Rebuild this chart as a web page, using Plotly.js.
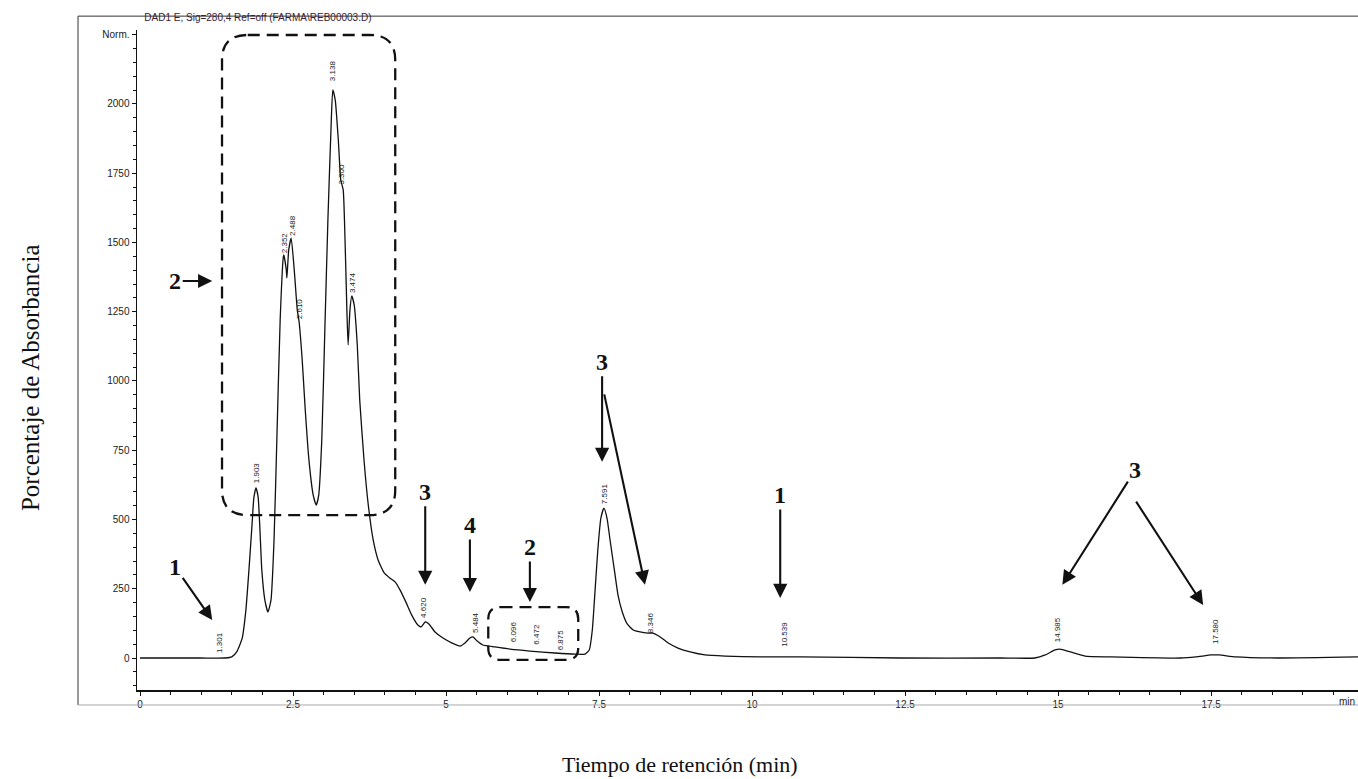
<!DOCTYPE html>
<html>
<head>
<meta charset="utf-8">
<script src="https://cdn.plot.ly/plotly-3.0.1.min.js"></script>
<style>html,body{margin:0;padding:0;background:#fff;}#chart{width:1358px;height:779px;}</style>
</head>
<body>
<div id="chart"></div>
<script>
// Chromatogram trace (retention time in min, absorbance in mAU)
const retentionTime = [0, 0.98, 1.39, 1.50, 1.58, 1.67, 1.73, 1.78, 1.83, 1.86, 1.895, 1.93, 1.96, 1.99, 2.04, 2.09, 2.14, 2.19, 2.24, 2.29, 2.34, 2.35, 2.39, 2.40, 2.43, 2.47, 2.52, 2.57, 2.60, 2.65, 2.70, 2.76, 2.83, 2.88, 2.92, 2.97, 3.02, 3.07, 3.12, 3.15, 3.19, 3.24, 3.28, 3.32, 3.35, 3.38, 3.40, 3.43, 3.46, 3.50, 3.55, 3.59, 3.66, 3.73, 3.81, 3.89, 3.99, 4.08, 4.17, 4.25, 4.35, 4.44, 4.54, 4.59, 4.66, 4.72, 4.82, 4.95, 5.10, 5.23, 5.31, 5.39, 5.44, 5.51, 5.60, 5.80, 6.05, 6.37, 6.78, 7.11, 7.27, 7.34, 7.39, 7.43, 7.48, 7.53, 7.58, 7.63, 7.68, 7.75, 7.81, 7.88, 7.96, 8.06, 8.17, 8.30, 8.38, 8.50, 8.63, 8.79, 8.99, 9.23, 9.56, 10.13, 10.78, 12.42, 14.05, 14.62, 14.79, 14.95, 15.03, 15.20, 15.44, 15.85, 17.00, 17.25, 17.50, 17.63, 17.90, 18.60, 19.90];
const absorbance = [0, 0, 0, 4, 22, 72, 173, 318, 480, 578, 614, 581, 462, 318, 209, 166, 209, 426, 823, 1220, 1444, 1455, 1401, 1372, 1473, 1516, 1401, 1256, 1213, 1076, 895, 715, 588, 552, 588, 787, 1184, 1581, 1906, 2051, 2014, 1870, 1726, 1690, 1509, 1256, 1130, 1256, 1307, 1274, 1130, 931, 715, 552, 426, 354, 307, 289, 274, 245, 199, 155, 119, 112, 130, 123, 94, 72, 54, 43, 54, 72, 76, 61, 47, 40, 32, 25, 18, 14, 14, 29, 101, 227, 390, 505, 541, 505, 426, 318, 227, 166, 123, 101, 94, 90, 90, 76, 54, 36, 22, 11, 7, 4, 4, 0, 0, 0, 11, 29, 32, 22, 7, 4, 0, 4, 11, 11, 4, 0, 4];

// Peak retention-time labels
const peakTimes = [1.301, 1.903, 2.352, 2.488, 2.610, 3.138, 3.300, 3.474, 4.620, 5.484, 6.096, 6.472, 6.875, 7.591, 8.346, 10.539, 14.985, 17.580];
const peakLabels = ["1.301", "1.903", "2.352", "2.488", "2.610", "3.138", "3.300", "3.474", "4.620", "5.484", "6.096", "6.472", "6.875", "7.591", "8.346", "10.539", "14.985", "17.580"];
const peakHeights = [8, 620, 1452, 1512, 1213, 2070, 1700, 1307, 135, 80, 45, 36, 18, 545, 80, 28, 45, 38];

// Axis ticks
const xTickVals = [0, 2.5, 5, 7.5, 10, 12.5, 15, 17.5];
const xTickText = ["0", "2.5", "5", "7.5", "10", "12.5", "15", "17.5"];
const yTickVals = [0, 250, 500, 750, 1000, 1250, 1500, 1750, 2000, 2250];
const yTickText = ["0", "250", "500", "750", "1000", "1250", "1500", "1750", "2000", "Norm."];

// Group markers: [label, head time, head value, text dx px, text dy px]
const groupMarks = [
  ["1", 1.18, 137, -37, -53],
  ["2", 1.18, 1361, -37, 0],
  ["3", 4.66, 264, 0, -93],
  ["4", 5.39, 238, 0, -67],
  ["2", 6.37, 202, 0, -55],
  ["3", 7.55, 708, 0, -100],
  ["", 8.25, 264, -41, -192],
  ["1", 10.46, 217, 0, -103],
  ["3", 15.07, 264, 73, -115],
  ["", 17.37, 191, -68, -105]
];

const serif = "Liberation Serif, Times New Roman, serif";
const sans = "Liberation Sans, Arial, sans-serif";

function roundedBox(x0, x1, y0, y1, rx, ry) {
  return "M " + (x0 + rx) + "," + y1 + " L " + (x1 - rx) + "," + y1 +
    " Q " + x1 + "," + y1 + " " + x1 + "," + (y1 - ry) +
    " L " + x1 + "," + (y0 + ry) +
    " Q " + x1 + "," + y0 + " " + (x1 - rx) + "," + y0 +
    " L " + (x0 + rx) + "," + y0 +
    " Q " + x0 + "," + y0 + " " + x0 + "," + (y0 + ry) +
    " L " + x0 + "," + (y1 - ry) +
    " Q " + x0 + "," + y1 + " " + (x0 + rx) + "," + y1 + " Z";
}

const trace = {
  x: retentionTime,
  y: absorbance,
  type: "scatter",
  mode: "lines",
  line: {color: "#111", width: 1.3, shape: "spline", smoothing: 0.5},
  hoverinfo: "x+y",
  showlegend: false
};

const annotations = [];
peakTimes.forEach(function (t, i) {
  annotations.push({
    x: t, y: peakHeights[i], xref: "x", yref: "y",
    text: peakLabels[i], textangle: -90, showarrow: false,
    xanchor: "center", yanchor: "bottom", yshift: 1,
    font: {family: sans, size: 8, color: "#222"}
  });
});
groupMarks.forEach(function (g) {
  annotations.push({
    x: g[1], y: g[2], xref: "x", yref: "y",
    text: g[0], showarrow: true, ax: g[3], ay: g[4],
    arrowhead: 2, arrowsize: 1.35, arrowwidth: 2.1, arrowcolor: "#111",
    font: {family: serif, size: 24, color: "#111", weight: "bold"}
  });
});
// axis unit at the right end of the x axis
annotations.push({
  xref: "paper", yref: "paper", x: 1, y: 0, xanchor: "right", yanchor: "top",
  xshift: -1, yshift: -4, text: "min", showarrow: false,
  font: {family: sans, size: 10, color: "#222"}
});
// axis titles
annotations.push({
  xref: "paper", yref: "paper", x: 0.4447, y: -0.1136, xanchor: "center", yanchor: "middle",
  text: "Tiempo de retención (min)", showarrow: false,
  font: {family: serif, size: 22, color: "#111"}
});
annotations.push({
  xref: "paper", yref: "paper", x: -0.0876, y: 0.4727, xanchor: "center", yanchor: "middle",
  text: "Porcentaje de Absorbancia", textangle: -90, showarrow: false,
  font: {family: serif, size: 25, color: "#111"}
});

const shapes = [
  {type: "path", xref: "x", yref: "y", path: roundedBox(1.34, 4.17, 516, 2249, 0.42, 90),
   line: {color: "#111", width: 2.3, dash: "12px,7px"}},
  {type: "path", xref: "x", yref: "y", path: roundedBox(5.69, 7.16, -7, 184, 0.2, 43),
   line: {color: "#111", width: 2.3, dash: "12px,7px"}},
  {type: "line", xref: "paper", yref: "paper", x0: -0.0483, x1: 1.01, y0: 1.021, y1: 1.021,
   line: {color: "#333", width: 1}},
  {type: "line", xref: "paper", yref: "paper", x0: -0.0483, x1: -0.0483, y0: 1.021, y1: -0.0227,
   line: {color: "#333", width: 1}},
  {type: "line", xref: "paper", yref: "paper", x0: -0.0483, x1: 1.01, y0: -0.0227, y1: -0.0227,
   line: {color: "#aaa", width: 1}}
];

const layout = {
  width: 1358, height: 779,
  margin: {l: 137, r: 0, t: 30, b: 89},
  paper_bgcolor: "#fff", plot_bgcolor: "#fff",
  title: {
    text: "DAD1 E, Sig=280,4 Ref=off (FARMA\\REB00003.D)",
    x: 0.006, xref: "paper", xanchor: "left",
    y: 0.977, yref: "container", yanchor: "middle",
    font: {family: sans, size: 10, color: "#3a2030"}
  },
  xaxis: {
    range: [-0.049, 19.9], showgrid: false, zeroline: false,
    showline: true, linecolor: "#111", linewidth: 1.5,
    tickmode: "array", tickvals: xTickVals, ticktext: xTickText,
    ticks: "outside", ticklen: 4, tickcolor: "#111",
    minor: {dtick: 0.5, ticks: "outside", ticklen: 3, tickcolor: "#111", showgrid: false},
    tickfont: {family: sans, size: 10, color: "#222"}
  },
  yaxis: {
    range: [-115.5, 2267], showgrid: false, zeroline: false,
    showline: true, linecolor: "#111", linewidth: 1.5,
    tickmode: "array", tickvals: yTickVals, ticktext: yTickText,
    ticks: "outside", ticklen: 4, tickcolor: "#111",
    minor: {dtick: 50, ticks: "outside", ticklen: 3, tickcolor: "#111", showgrid: false},
    tickfont: {family: sans, size: 10, color: "#222"}
  },
  annotations: annotations,
  shapes: shapes
};

Plotly.newPlot("chart", [trace], layout, {displayModeBar: false, staticPlot: true});
</script>
</body>
</html>
